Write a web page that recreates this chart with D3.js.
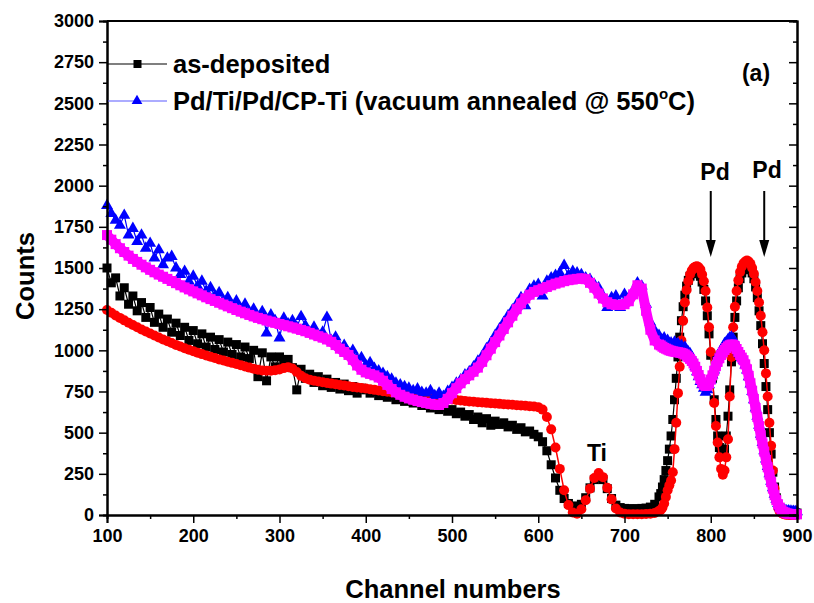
<!DOCTYPE html>
<html>
<head>
<meta charset="utf-8">
<script src="https://cdn.jsdelivr.net/npm/d3@7/dist/d3.min.js"></script>
<style>
  html, body { margin: 0; padding: 0; background: #fff; }
  svg text { font-family: "Liberation Sans", Arial, sans-serif; font-weight: bold; fill: #000; }
</style>
</head>
<body>
<svg id="chart" width="814" height="603"></svg>
<script>
// RBS spectra: channel grid (coarse below 740, fine across the Pd peaks)
const channelsLow = d3.range(100, 741, 5);   // 129 channels
const channelsHigh = d3.range(742, 901, 2);  // 80 channels

// as-deposited: measured counts
const asDepLow = [
  1500,1410,1440,1330,1380,1280,1330,1240,1290,1200,
  1260,1170,1220,1140,1190,1110,1165,1090,1140,1060,
  1120,1040,1100,1020,1080,1005,1065,990,1050,975,
  1035,960,1020,950,1000,840,985,815,960,900,
  960,920,945,895,760,885,830,855,805,840,
  785,825,775,805,765,795,755,780,740,770,
  760,740,750,725,740,715,725,700,715,690,
  705,680,690,665,680,650,665,640,655,630,
  640,615,625,600,610,580,595,560,585,545,
  570,550,560,535,545,520,530,505,510,490,
  475,445,390,305,225,150,100,70,55,50,
  65,105,165,215,235,215,160,100,60,45,
  40,38,38,38,40,42,48,65,110
];
const asDepHigh = [
  130,170,215,270,330,400,480,580,700,830,
  960,1080,1180,1265,1335,1390,1425,1450,1465,1475,
  1480,1478,1470,1450,1415,1370,1300,1210,1100,970,
  830,700,580,480,410,375,370,400,480,600,
  760,930,1080,1200,1300,1380,1435,1470,1490,1500,
  1505,1500,1490,1470,1435,1385,1320,1240,1150,1040,
  920,780,640,500,370,260,170,105,65,42,
  30,24,20,18,16,15,14,14,13,12
];

// as-deposited: simulated spectrum
const asDepSimLow = [
  1245,1228,1212,1197,1182,1168,1154,1140,1127,1114,
  1102,1090,1078,1066,1055,1044,1033,1023,1013,1004,
  995,986,977,969,961,953,945,938,931,924,
  917,910,902,895,888,882,878,876,876,879,
  884,892,898,890,868,845,830,822,816,811,
  806,802,798,794,790,786,782,778,775,771,
  768,764,760,756,752,748,745,742,738,735,
  731,728,725,722,719,716,713,710,707,704,
  701,698,696,693,690,688,685,683,681,679,
  677,675,673,671,669,667,665,663,661,659,
  655,640,595,520,410,280,150,60,15,8,
  35,90,160,225,255,230,165,95,40,15,
  8,5,5,5,5,6,8,12,25
];
const asDepSimHigh = [
  30,45,70,110,150,180,210,260,400,560,
  740,900,1060,1180,1290,1366,1420,1460,1485,1500,
  1508,1510,1505,1490,1460,1420,1360,1260,1140,990,
  840,680,540,440,350,280,245,270,350,460,
  720,960,1140,1265,1360,1425,1475,1508,1528,1540,
  1545,1540,1525,1500,1465,1415,1360,1290,1210,1110,
  1000,860,720,560,420,270,160,85,45,22,
  12,6,3,2,1,0,0,0,0,0
];

// Pd/Ti/Pd/CP-Ti vacuum annealed at 550 °C: measured counts
const annealedLow = [
  1880,1830,1790,1760,1820,1700,1740,1660,1700,1620,
  1650,1560,1610,1520,1560,1570,1500,1460,1480,1420,
  1450,1390,1420,1360,1380,1330,1350,1300,1320,1270,
  1300,1250,1280,1230,1250,1200,1235,1105,1215,1180,
  1075,1195,1160,1180,1140,1205,1150,1110,1140,1090,
  1110,1200,1060,1080,1020,1030,985,1000,950,955,
  910,925,890,875,860,840,825,800,790,780,
  770,755,765,745,740,755,725,740,720,750,
  775,800,820,850,870,900,935,965,1010,1045,
  1090,1130,1170,1210,1245,1280,1320,1270,1370,1390,
  1400,1330,1420,1440,1455,1470,1515,1455,1480,1470,
  1460,1440,1430,1400,1380,1330,1260,1320,1330,1260,
  1340,1320,1360,1410,1390,1280,1170,1120,1090
];
const annealedHigh = [
  1070,1060,1075,1050,1060,1040,1045,1030,1050,1035,
  1040,1020,1030,1010,1020,1000,990,980,960,940,
  900,870,840,810,790,770,745,760,790,820,
  850,880,920,950,980,1000,1020,1040,1050,1065,
  1075,1080,1070,1050,1020,990,975,955,940,910,
  880,840,795,750,700,650,600,545,490,440,
  390,340,295,250,205,165,125,95,70,50,
  40,32,28,25,25,23,22,22,20,20
];

// annealed: simulated spectrum
const annealedSimLow = [
  1700,1672,1645,1620,1597,1575,1555,1537,1520,1504,
  1489,1474,1460,1447,1434,1421,1408,1395,1382,1370,
  1358,1346,1334,1322,1311,1300,1289,1278,1267,1256,
  1245,1235,1225,1215,1206,1197,1189,1181,1174,1167,
  1160,1153,1146,1139,1132,1124,1116,1106,1096,1086,
  1077,1066,1052,1032,1010,990,972,942,908,882,
  866,857,848,835,815,790,765,745,730,718,
  708,700,692,686,680,675,670,668,680,705,
  740,770,800,825,848,870,895,930,970,1010,
  1050,1090,1130,1170,1210,1250,1285,1315,1338,1355,
  1365,1375,1385,1395,1405,1412,1420,1426,1430,1434,
  1437,1432,1410,1380,1345,1315,1292,1280,1276,1275,
  1280,1298,1340,1395,1375,1240,1125,1060,1035
];
const annealedSimHigh = [
  1030,1022,1015,1010,1005,1000,997,994,992,990,
  988,986,984,980,975,968,958,948,935,920,
  900,875,850,825,805,790,784,786,800,822,
  848,876,904,930,952,972,988,1002,1014,1024,
  1031,1035,1034,1025,1008,990,972,956,940,915,
  885,845,800,755,705,650,595,540,485,435,
  385,335,290,245,200,160,120,90,65,45,
  30,20,15,10,8,6,5,5,4,4
];

const yTicks = d3.range(0, 3001, 250);
const xTicks = d3.range(100, 901, 100);
const seriesNames = ["as-deposited", "Pd/Ti/Pd/CP-Ti (vacuum annealed @ 550"];

const channels = channelsLow.concat(channelsHigh);
const toPoints = (lo, hi) => lo.concat(hi).map((v, i) => [channels[i], v]);

const svg = d3.select("#chart");
svg.append("rect").attr("width", 814).attr("height", 603).attr("fill", "#fff");

const x = d3.scaleLinear().domain([100, 900]).range([107, 797]);
const y = d3.scaleLinear().domain([0, 3000]).range([515, 21]);

const line = d3.line().x(d => x(d[0])).y(d => y(d[1]));

const plot = svg.append("g");

// as-deposited measured: black squares
const blk = toPoints(asDepLow, asDepHigh);
plot.append("path").datum(blk).attr("d", line).attr("fill", "none").attr("stroke", "#000").attr("stroke-width", 1.2);
plot.append("g").selectAll("rect").data(blk).join("rect")
  .attr("x", d => x(d[0]) - 4.5).attr("y", d => y(d[1]) - 4.5)
  .attr("width", 9).attr("height", 9).attr("fill", "#000");

// as-deposited simulation: red circles
const red = toPoints(asDepSimLow, asDepSimHigh);
plot.append("path").datum(red).attr("d", line).attr("fill", "none").attr("stroke", "#ff0000").attr("stroke-width", 1.5);
plot.append("g").selectAll("circle").data(red).join("circle")
  .attr("cx", d => x(d[0])).attr("cy", d => y(d[1])).attr("r", 5).attr("fill", "#ff0000");

// annealed measured: blue triangles
const blu = toPoints(annealedLow, annealedHigh);
const tri = d3.symbol().type(d3.symbolTriangle).size(62);
plot.append("path").datum(blu).attr("d", line).attr("fill", "none").attr("stroke", "#0000ff").attr("stroke-width", 1.2);
plot.append("g").selectAll("path").data(blu).join("path")
  .attr("d", tri).attr("transform", d => `translate(${x(d[0])},${y(d[1])})`).attr("fill", "#0000ff");

// annealed simulation: magenta
const mag = toPoints(annealedSimLow, annealedSimHigh);
plot.append("path").datum(mag).attr("d", line).attr("fill", "none").attr("stroke", "#ff00ff")
  .attr("stroke-width", 10).attr("stroke-linejoin", "round").attr("stroke-linecap", "round");
plot.append("g").selectAll("rect").data(mag).join("rect")
  .attr("x", d => x(d[0]) - 5).attr("y", d => y(d[1]) - 5)
  .attr("width", 10).attr("height", 10).attr("fill", "#ff00ff");

// axes
const axes = svg.append("g");
const styleAxis = g => {
  g.select(".domain").attr("stroke", "#000").attr("stroke-width", 2);
  g.selectAll(".tick line").attr("stroke", "#000").attr("stroke-width", 1.5);
};
const yMinor = d3.range(125, 3000, 250);
const xMinor = d3.range(150, 900, 100);

axes.append("g").attr("transform", "translate(107,0)")
  .call(d3.axisLeft(y).tickValues(yMinor).tickSize(4).tickFormat("")).call(styleAxis);
axes.append("g").attr("transform", "translate(107,0)")
  .call(d3.axisLeft(y).tickValues(yTicks).tickSize(8).tickPadding(5).tickFormat(d3.format("d")))
  .call(styleAxis)
  .call(g => g.selectAll("text").attr("font-size", 18));

axes.append("g").attr("transform", "translate(797,0)")
  .call(d3.axisLeft(y).tickValues(yMinor).tickSize(4).tickFormat("")).call(styleAxis);
axes.append("g").attr("transform", "translate(797,0)")
  .call(d3.axisLeft(y).tickValues(yTicks).tickSize(8).tickFormat("")).call(styleAxis);

axes.append("g").attr("transform", "translate(0,515)")
  .call(d3.axisBottom(x).tickValues(xMinor).tickSize(4).tickFormat("")).call(styleAxis);
axes.append("g").attr("transform", "translate(0,515)")
  .call(d3.axisBottom(x).tickValues(xTicks).tickSize(8).tickPadding(6).tickFormat(d3.format("d")))
  .call(styleAxis)
  .call(g => g.selectAll("text").attr("font-size", 18));

axes.append("line").attr("x1", 107).attr("x2", 797).attr("y1", 21).attr("y2", 21)
  .attr("stroke", "#000").attr("stroke-width", 2);

// axis titles
svg.append("text").attr("x", 453).attr("y", 598).attr("text-anchor", "middle")
  .attr("font-size", 25.5).text("Channel numbers");
svg.append("text").attr("transform", "translate(34,276) rotate(-90)").attr("text-anchor", "middle")
  .attr("font-size", 25.5).text("Counts");

// legend
const lg = svg.append("g");
lg.append("line").attr("x1", 108).attr("x2", 167).attr("y1", 64).attr("y2", 64).attr("stroke", "#000").attr("stroke-width", 1.2);
lg.append("rect").attr("x", 133.5).attr("y", 60).attr("width", 8).attr("height", 8).attr("fill", "#000");
lg.append("text").attr("x", 173).attr("y", 73).attr("font-size", 25.5).text(seriesNames[0]);
lg.append("line").attr("x1", 108).attr("x2", 167).attr("y1", 101).attr("y2", 101).attr("stroke", "#5a5aff").attr("stroke-width", 1.2);
lg.append("path").attr("d", d3.symbol().type(d3.symbolTriangle).size(50)).attr("transform", "translate(137,101)").attr("fill", "#0000ff");
const t2 = lg.append("text").attr("x", 173).attr("y", 110).attr("font-size", 25.5);
t2.append("tspan").text(seriesNames[1]);
t2.append("tspan").attr("font-size", 15).attr("dy", -11).text("o");
t2.append("tspan").attr("dy", 11).text("C)");

// annotations
svg.append("text").attr("x", 756).attr("y", 81).attr("text-anchor", "middle").attr("font-size", 23).text("(a)");
svg.append("text").attr("x", 597).attr("y", 461).attr("text-anchor", "middle").attr("font-size", 23).text("Ti");

const peaks = [{ c: 800, lx: 715, ly: 180 }, { c: 862, lx: 767, ly: 178 }];
peaks.forEach(p => {
  const px = x(p.c);
  svg.append("text").attr("x", p.lx).attr("y", p.ly).attr("text-anchor", "middle").attr("font-size", 23).text("Pd");
  svg.append("line").attr("x1", px).attr("x2", px).attr("y1", 191).attr("y2", 245).attr("stroke", "#000").attr("stroke-width", 2);
  svg.append("path").attr("d", `M${px - 5},${240} L${px + 5},${240} L${px},${257} Z`).attr("fill", "#000");
});
</script>
</body>
</html>
